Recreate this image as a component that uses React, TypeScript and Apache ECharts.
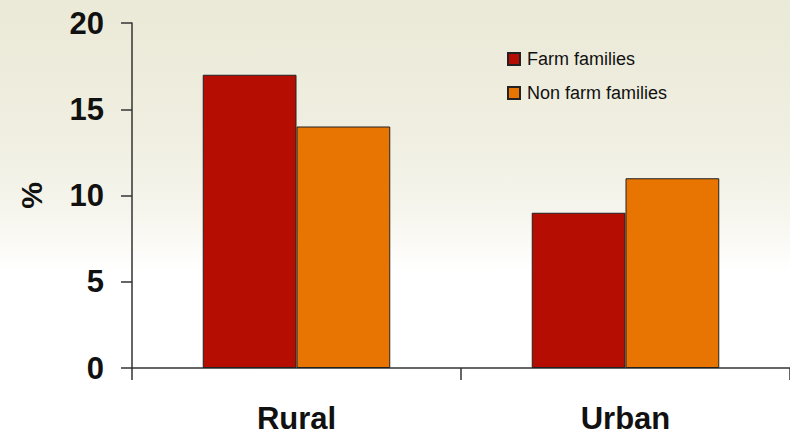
import React, { useEffect, useRef } from "react";
import * as echarts from "echarts";

const categories = ["Rural", "Urban"];
const farmFamilies = [17, 9];
const nonFarmFamilies = [14, 11];
const seriesNames = ["Farm families", "Non farm families"];
const yTicks = { min: 0, max: 20, interval: 5 };

export default function App() {
  const ref = useRef<HTMLDivElement>(null);
  useEffect(() => {
    if (!ref.current) return;
    const chart = echarts.init(ref.current, null, { renderer: "svg" });
    const boldFont = "'Liberation Sans Narrow', 'Arial Narrow', 'Liberation Sans', Arial, sans-serif";
    chart.setOption({
      animation: false,
      backgroundColor: "transparent",
      grid: { left: 132, right: -2, top: 23, bottom: 71, containLabel: false },
      legend: {
        orient: "vertical",
        left: 502,
        top: 45,
        itemWidth: 12,
        itemHeight: 12,
        itemGap: 16,
        icon: "rect",
        textStyle: { fontSize: 18, color: "#111", fontFamily: "'Liberation Sans', Arial, sans-serif", padding: [0, 0, 0, 2] },
        data: seriesNames,
      },
      xAxis: {
        type: "category",
        data: categories,
        axisLine: { show: true, lineStyle: { color: "#333", width: 1.5 } },
        axisTick: { show: true, length: 12, alignWithLabel: false, lineStyle: { color: "#333", width: 1.5 } },
        axisLabel: { margin: 35, fontSize: 31, fontWeight: "bold", color: "#111", fontFamily: boldFont },
      },
      yAxis: {
        type: "value",
        min: yTicks.min,
        max: yTicks.max,
        interval: yTicks.interval,
        name: "%",
        nameLocation: "middle",
        nameGap: 86,
        nameTextStyle: { fontSize: 30, fontWeight: "bold", color: "#111", fontFamily: boldFont },
        splitLine: { show: false },
        axisLine: { show: true, lineStyle: { color: "#333", width: 1.5 } },
        axisTick: { show: true, length: 11, lineStyle: { color: "#333", width: 1.5 } },
        axisLabel: { margin: 28, fontSize: 31, fontWeight: "bold", color: "#111", fontFamily: boldFont },
      },
      series: [
        {
          name: seriesNames[0],
          type: "bar",
          data: farmFamilies,
          barGap: "0%",
          barCategoryGap: "43%",
          itemStyle: { color: "#B50D02", borderColor: "#222", borderWidth: 1 },
        },
        {
          name: seriesNames[1],
          type: "bar",
          data: nonFarmFamilies,
          barGap: "0%",
          barCategoryGap: "43%",
          itemStyle: { color: "#E87502", borderColor: "#222", borderWidth: 1 },
        },
      ],
    });
    return () => chart.dispose();
  }, []);
  return (
    <div
      style={{
        position: "fixed",
        left: 0,
        top: 0,
        width: 790,
        height: 439,
        background: "linear-gradient(180deg, #EBEAD8 0%, #EFEEE0 30%, #F7F6EF 50%, #FFFFFF 62%, #FFFFFF 100%)",
      }}
    >
      <div ref={ref} style={{ width: 790, height: 439 }} />
    </div>
  );
}
